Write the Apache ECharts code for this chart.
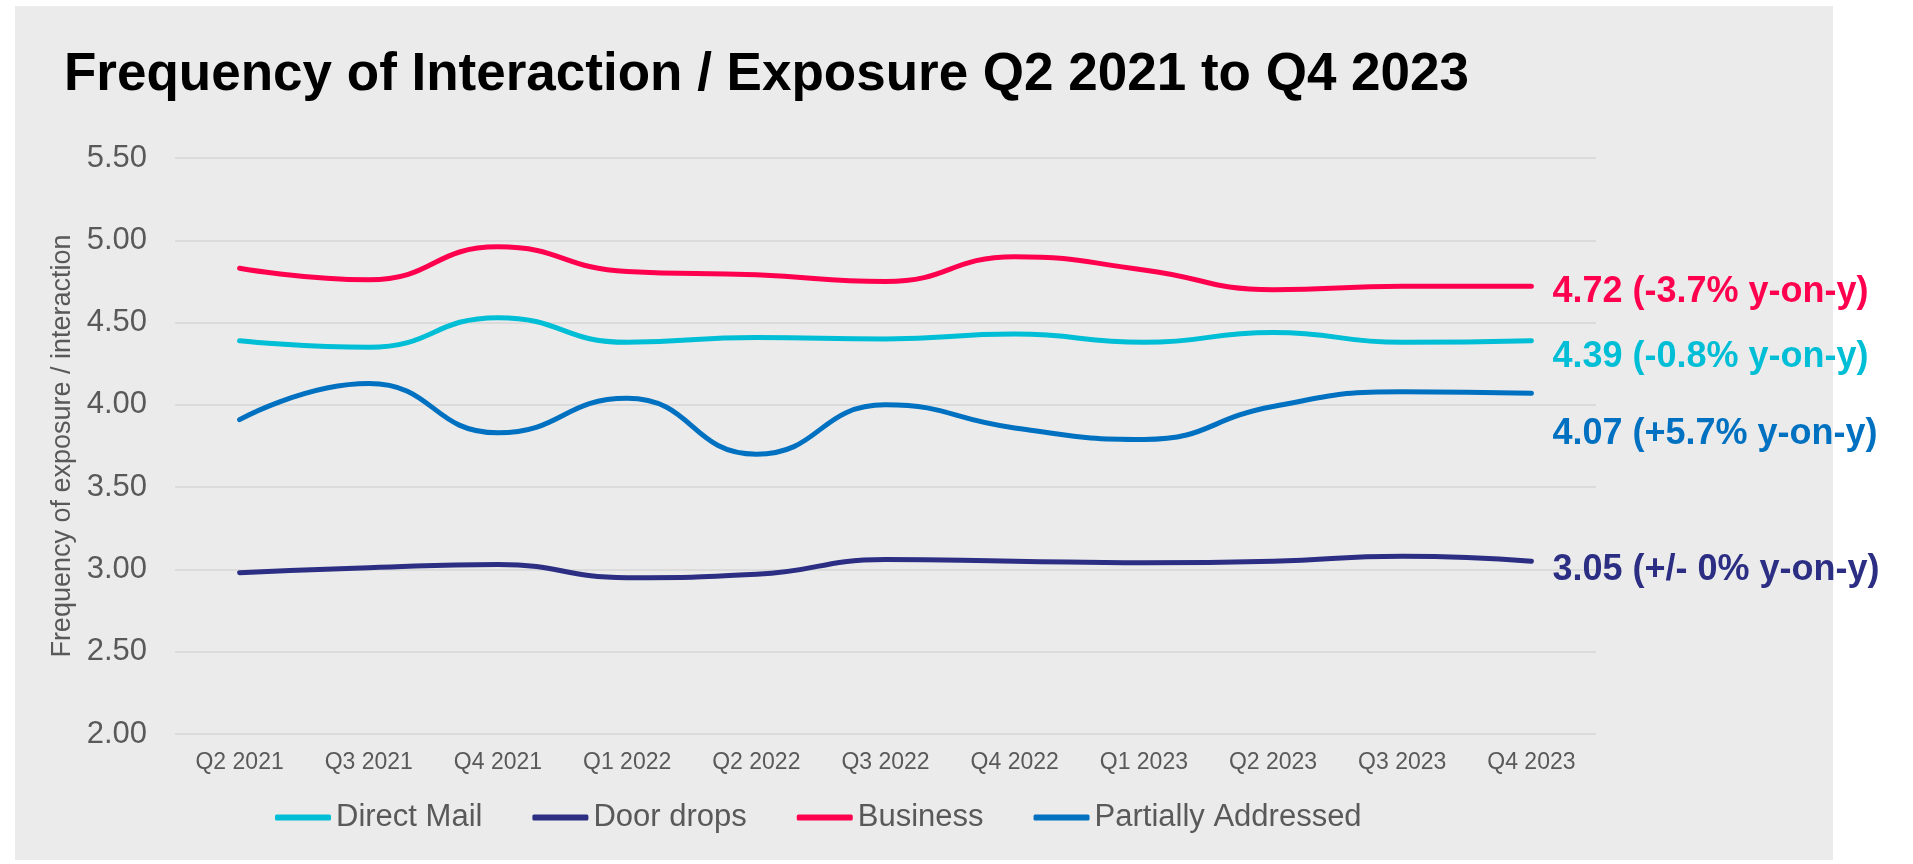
<!DOCTYPE html>
<html>
<head>
<meta charset="utf-8">
<title>Frequency of Interaction / Exposure Q2 2021 to Q4 2023</title>
<script src="https://cdn.jsdelivr.net/npm/echarts@6/dist/echarts.min.js"></script>
<style>
  html, body { margin: 0; padding: 0; background: #ffffff; }
  #chart { width: 1913px; height: 864px; }
</style>
</head>
<body>
<div id="chart"></div>
<script>
// Quarters on the x axis
const categories = ['Q2 2021', 'Q3 2021', 'Q4 2021', 'Q1 2022', 'Q2 2022', 'Q3 2022',
                    'Q4 2022', 'Q1 2023', 'Q2 2023', 'Q3 2023', 'Q4 2023'];

// Average frequency of exposure / interaction per quarter
const directMail         = [4.39, 4.35, 4.53, 4.38, 4.41, 4.40, 4.43, 4.38, 4.44, 4.38, 4.39];
const doorDrops          = [2.98, 3.01, 3.03, 2.95, 2.97, 3.06, 3.05, 3.04, 3.05, 3.08, 3.05];
const business           = [4.83, 4.76, 4.96, 4.81, 4.79, 4.75, 4.90, 4.82, 4.70, 4.72, 4.72];
const partiallyAddressed = [3.91, 4.13, 3.83, 4.04, 3.70, 4.00, 3.86, 3.79, 3.99, 4.08, 4.07];

// Year-on-year change shown beside the latest value
const yoyDirectMail = '-0.8%';
const yoyDoorDrops = '+/- 0%';
const yoyBusiness = '-3.7%';
const yoyPartiallyAddressed = '+5.7%';

// Y axis ticks
const yMin = 2.0;
const yMax = 5.5;
const yStep = 0.5;

const FONT = 'Liberation Sans, Arial, Helvetica, sans-serif';

function makeSeries(name, data, color, yoy, labelOffsetY) {
  return {
    name: name,
    type: 'line',
    data: data,
    smooth: 0.5,
    showSymbol: false,
    symbol: 'none',
    lineStyle: { color: color, width: 5, cap: 'round', join: 'round' },
    itemStyle: { color: color },
    emphasis: { disabled: true },
    endLabel: {
      show: true,
      distance: 21,
      offset: [0, labelOffsetY],
      color: color,
      fontFamily: FONT,
      fontWeight: 'bold',
      fontSize: 36,
      formatter: function (p) {
        return Number(p.value).toFixed(2) + ' (' + yoy + ' y-on-y)';
      }
    }
  };
}

const chart = echarts.init(document.getElementById('chart'), null, { renderer: 'canvas' });

chart.setOption({
  animation: false,
  backgroundColor: '#ffffff',
  graphic: [{
    type: 'rect',
    z: -10,
    silent: true,
    shape: { x: 15, y: 6, width: 1818, height: 854 },
    style: { fill: '#ebebeb' }
  }],
  title: {
    text: 'Frequency of Interaction / Exposure Q2 2021 to Q4 2023',
    left: 59,
    top: 44,
    textStyle: { fontFamily: FONT, fontWeight: 'bold', fontSize: 53, color: '#000000' }
  },
  legend: {
    left: 270,
    top: 797,
    itemWidth: 56,
    itemHeight: 6,
    itemGap: 50,
    icon: 'roundRect',
    textStyle: { fontFamily: FONT, fontSize: 31, color: '#595959' },
    data: ['Direct Mail', 'Door drops', 'Business', 'Partially Addressed']
  },
  grid: { left: 175, right: 317, top: 158, bottom: 130 },
  xAxis: {
    type: 'category',
    data: categories,
    boundaryGap: true,
    axisLine: { show: false },
    axisTick: { show: false },
    axisLabel: { margin: 17, fontFamily: FONT, fontSize: 23, color: '#595959' }
  },
  yAxis: {
    type: 'value',
    min: yMin,
    max: yMax,
    interval: yStep,
    name: 'Frequency of exposure / interaction',
    nameLocation: 'middle',
    nameGap: 99,
    nameTextStyle: { fontFamily: FONT, fontSize: 27, color: '#595959' },
    axisLine: { show: false },
    axisTick: { show: false },
    splitLine: { lineStyle: { color: '#d6d6d6', width: 1.5 } },
    axisLabel: {
      margin: 28,
      fontFamily: FONT,
      fontSize: 31,
      color: '#595959',
      formatter: function (v) { return v.toFixed(2); }
    }
  },
  series: [
    makeSeries('Direct Mail', directMail, '#00bed5', yoyDirectMail, 16),
    makeSeries('Door drops', doorDrops, '#2b2e83', yoyDoorDrops, 9),
    makeSeries('Business', business, '#ff004f', yoyBusiness, 6),
    makeSeries('Partially Addressed', partiallyAddressed, '#0071c1', yoyPartiallyAddressed, 41)
  ]
});
</script>
</body>
</html>
